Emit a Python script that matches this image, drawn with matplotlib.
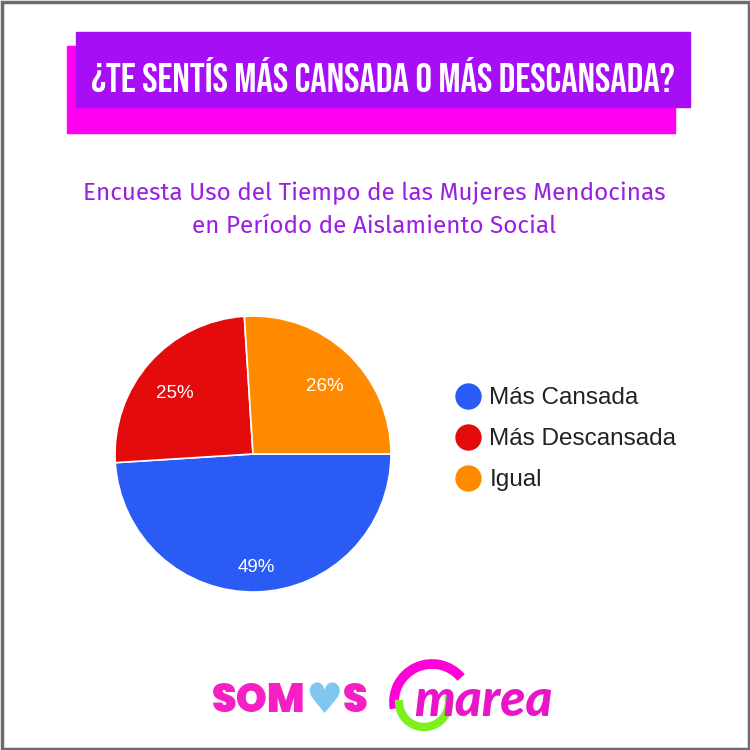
import matplotlib.pyplot as plt
from matplotlib.patches import Rectangle, Arc
from matplotlib.lines import Line2D

# datos de la encuesta
categorias = ['Más Cansada', 'Más Descansada', 'Igual']
porcentajes = [49, 25, 26]
colores = ['#2a5cf5', '#e30b0b', '#ff8a00']

titulo = '¿TE SENTÍS MÁS CANSADA O MÁS DESCANSADA?'
subtitulo = 'Encuesta Uso del Tiempo de las Mujeres Mendocinas\nen Período de Aislamiento Social'

W = 750.0

def fx(x):
    return x / W

def fy(y):
    return 1 - y / W

fig = plt.figure(figsize=(7.5, 7.5), dpi=100)
fig.patch.set_facecolor('white')
renderer = fig.canvas.get_renderer()

# marco gris
fig.patches.append(Rectangle((0.002, 0.002), 0.996, 0.996, transform=fig.transFigure,
                             fill=False, edgecolor='#6b6b6b', linewidth=2.5))

# banner del titulo
fig.patches.append(Rectangle((fx(67), fy(133)), fx(675 - 67), (133 - 46) / W,
                             transform=fig.transFigure, color='#ff00f2', zorder=1))
fig.patches.append(Rectangle((fx(76), fy(107)), fx(690 - 76), (107 - 32) / W,
                             transform=fig.transFigure, color='#a80ef5', zorder=2))
fig.text(fx(383), fy(75), titulo, ha='center', va='center', color='white',
         fontsize=29.5, family=['Bebas Neue', 'Oswald', 'DejaVu Sans'], zorder=3)

fig.text(fx(374), fy(210), subtitulo, ha='center', va='center', color='#9a1fe3',
         fontsize=17.5, fontweight='normal', family=['Fira Sans', 'Lato'], linespacing=1.55)

# torta
R = 138
lim = 1.1
ax = fig.add_axes([fx(253 - R * lim), fy(454 + R * lim), 2 * R * lim / W, 2 * R * lim / W])
wedges, textos, autotextos = ax.pie(porcentajes, colors=colores, startangle=0, counterclock=False,
                                    autopct='%d%%', pctdistance=0.76,
                                    wedgeprops=dict(edgecolor='white', linewidth=1.2),
                                    textprops=dict(color='white', fontsize=13.5,
                                                   family=['Liberation Sans', 'Arimo']))
for t in autotextos:
    t.set_va('top')
ax.set_xlim(-lim, lim)
ax.set_ylim(-lim, lim)
ax.set_aspect('equal')

# leyenda
handles = [Line2D([], [], marker='o', linestyle='', markersize=18, color=c) for c in colores]
fig.legend(handles, categorias, loc='upper left', bbox_to_anchor=(fx(442), fy(375)),
           frameon=False, prop=dict(family=['Liberation Sans', 'Arimo'], size=17.5),
           labelcolor='#222222', handletextpad=0.35, labelspacing=0.78, borderpad=0,
           handlelength=1.1)

# logos (aproximados)
rosa = '#f51fc4'
t1 = fig.text(fx(212), fy(702), 'SOM', ha='left', va='center', color=rosa,
              fontsize=28.5, fontweight='black', family=['Poppins', 'Montserrat', 'Lato'])
x1 = t1.get_window_extent(renderer).x1
t2 = fig.text(x1 / W, fy(701), '♥', ha='left', va='center', color='#7ec8f0',
              fontsize=30, family='DejaVu Sans')
x2 = t2.get_window_extent(renderer).x1
fig.text(x2 / W, fy(702), 'S', ha='left', va='center', color=rosa,
         fontsize=28.5, fontweight='black', family=['Poppins', 'Montserrat', 'Lato'])

fig.patches.append(Arc((fx(432), fy(702)), 76 / W, 76 / W, theta1=40, theta2=190,
                       transform=fig.transFigure, color='#ff00d8', linewidth=7))
fig.patches.append(Arc((fx(424), fy(702)), 50 / W, 50 / W, theta1=175, theta2=15,
                       transform=fig.transFigure, color='#7ef020', linewidth=6))
fig.text(fx(414), fy(701), 'marea', ha='left', va='center', color='#e915c9',
         fontsize=37, fontweight='black', style='italic', family=['Lato', 'DejaVu Sans'])

fig.savefig('out.png', dpi=100, facecolor='white')
